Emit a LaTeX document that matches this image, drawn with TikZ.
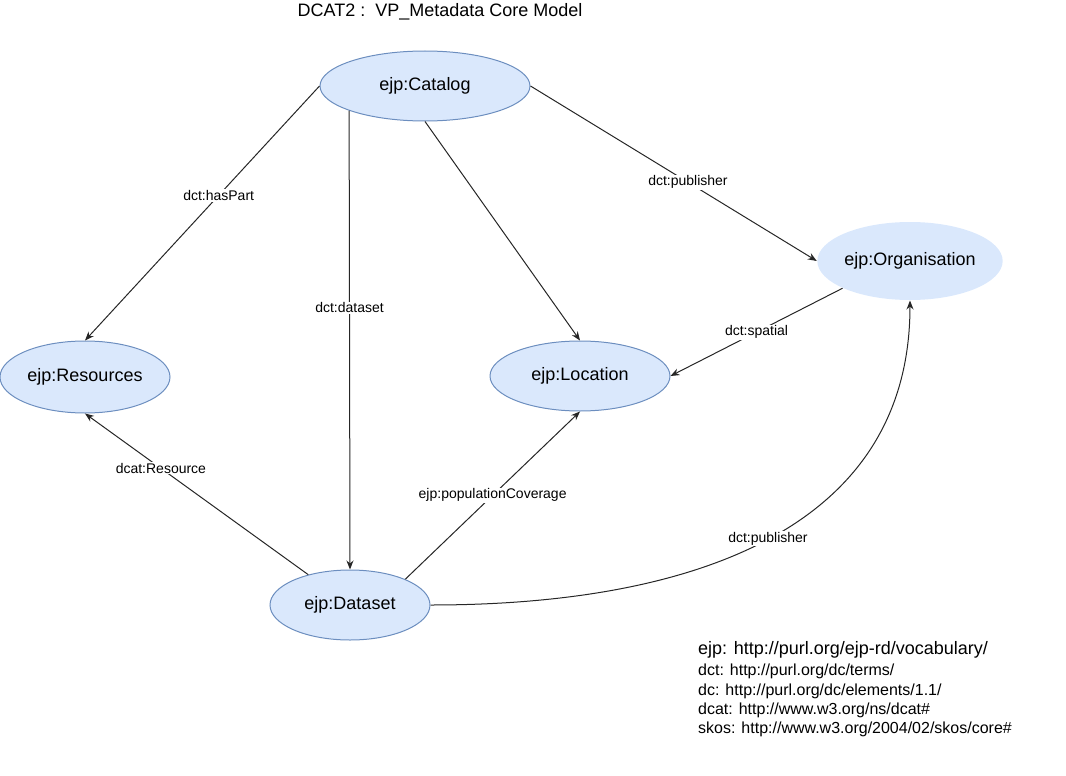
\documentclass[tikz,border=0pt]{standalone}
\usepackage{fontspec}
\setmainfont{Liberation Sans}
\usetikzlibrary{arrows.meta}
\usetikzlibrary{shapes.geometric}
\definecolor{classfill}{HTML}{DAE8FC}
\definecolor{classline}{HTML}{6C8EBF}
\tikzset {
  % ellipse for an ejp class
  class/.style = {
    ellipse,
    fill = classfill,
    draw = classline,
    line width = 1pt,
    inner sep = 0pt,
    font = \fontsize{18}{21}\selectfont
  },
  % class drawn without an outline
  bare class/.style = {
    class,
    draw = none
  },
  % property label sitting on a connector
  prop/.style = {
    fill = white,
    inner sep = 1pt,
    font = \fontsize{14}{16}\selectfont
  },
  arr/.style = {
    draw = black!85,
    line width = 1pt,
    -{Stealth[length = 9pt, width = 7pt]}
  },
  ns/.style = {
    anchor = west,
    inner sep = 0pt,
    font = \fontsize{16}{19}\selectfont
  }
}

\begin{document}
\begin{tikzpicture}[x = 1pt, y = -1pt]
    \useasboundingbox (0, 0) rectangle (1066, 776);

    \node[font = \fontsize{18}{21}\selectfont] (title) at (440, 12) {DCAT2 :\ \ VP\_Metadata Core Model};

    \node[class, minimum width = 210pt, minimum height = 70pt] (cat) at (425, 86) {ejp:Catalog};
    \node[class, minimum width = 170pt, minimum height = 72pt] (res) at (85, 377) {ejp:Resources};
    \node[class, minimum width = 180pt, minimum height = 70pt] (loc) at (580, 376) {ejp:Location};
    \node[bare class, minimum width = 180pt, minimum height = 78pt] (org) at (910, 261) {ejp:Organisation};
    \node[class, minimum width = 160pt, minimum height = 70pt] (dat) at (350, 605) {ejp:Dataset};

    \draw[arr] (cat.west) -- node[prop, pos = 0.43] {dct:hasPart} (res.north);
    \draw[arr] (cat.198) -- node[prop, pos = 0.43] {dct:dataset} (dat.north);
    \draw[arr] (cat.south) -- (loc.north);
    \draw[arr] (cat.east) -- node[prop, pos = 0.55] {dct:publisher} (org.west);
    \draw[arr] (org.202.6) -- node[prop, pos = 0.5] {dct:spatial} (loc.east);
    \draw[arr] (dat.144.5) -- node[prop, pos = 0.66] {dcat:Resource} (res.south);
    \draw[arr] (dat.25.7) -- node[prop, pos = 0.5] {ejp:populationCoverage} (loc.south);
    \draw[arr] (dat.east) .. controls (691, 605) and (910, 530) .. node[prop] {dct:publisher} (org.south);

    % namespace prefixes
    \node[ns, font = \fontsize{18}{21}\selectfont] (ns-ejp) at (698, 650) {ejp: http://purl.org/ejp-rd/vocabulary/};
    \node[ns] (ns-dct) at (698, 671) {dct: http://purl.org/dc/terms/};
    \node[ns] (ns-dc) at (698, 691) {dc: http://purl.org/dc/elements/1.1/};
    \node[ns] (ns-dcat) at (698, 710) {dcat: http://www.w3.org/ns/dcat\#};
    \node[ns] (ns-skos) at (698, 729) {skos: http://www.w3.org/2004/02/skos/core\#};
\end{tikzpicture}
\end{document}
